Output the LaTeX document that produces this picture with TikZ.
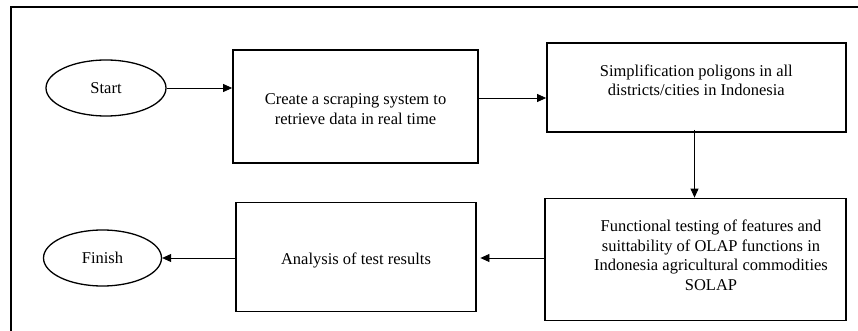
\documentclass[tikz,border=0pt]{standalone}
\usepackage{fontspec}
\setmainfont{Liberation Serif}
\usetikzlibrary{arrows.meta,shapes.geometric,calc}
\tikzset{
  procbox/.style={draw, line width=1.8pt, rectangle, inner sep=0pt},
  term/.style={draw, line width=1.3pt, ellipse, inner sep=0pt},
  txt/.style={align=center, font=\fontsize{16.5}{19.5}\selectfont, inner sep=0pt},
  flow/.style={line width=0.8pt, -{Triangle[length=9pt,width=8pt]}},
}
\begin{document}
\begin{tikzpicture}[x=1pt,y=-1pt]
\useasboundingbox (0,0) rectangle (858,331);
\clip (0,0) rectangle (858,331);
\draw[line width=1.6pt] (11,7) rectangle (880,350);
% terminals
\node[term, minimum width=120, minimum height=56, txt] (s) at (106,88) {Start};
\node[term, minimum width=118, minimum height=56, txt] (f) at (102.5,258) {Finish};
% boxes
\node[procbox, minimum width=245, minimum height=113] (b1) at (355.5,106.5) {};
\node[txt] (t1) at (355.5,109) {Create a scraping system to\\retrieve data in real time};
\node[procbox, minimum width=299, minimum height=89] (b2) at (696.5,87.5) {};
\node[txt] (t2) at (696.3,80.5) {Simplification poligons in all\\districts/cities in Indonesia};
\node[procbox, minimum width=301, minimum height=122] (b3) at (695.5,259.5) {};
\node[txt] (t3) at (711,255.5) {Functional testing of features and\\suittability of OLAP functions in\\Indonesia agricultural commodities\\SOLAP};
\node[procbox, minimum width=240, minimum height=109] (b4) at (356,257) {};
\node[txt] (t4) at (356,260) {Analysis of test results};
% connectors
\draw[flow] (s.east) -- (s.east -| b1.west);
\draw[flow] ($(b1.east)+(0,-8.5)$) -- ($(b1.east -| b2.west)+(0,-8.5)$);
\draw[flow] ($(b2.south)+(-2,-3)$) -- ($(b2.south |- b3.north)+(-2,0)$);
\draw[flow] ($(b3.west)+(0,-1.5)$) -- ($(b3.west -| b4.east)+(3.5,-1.5)$);
\draw[flow] (f.east -| b4.west) -- (f.east);
\end{tikzpicture}
\end{document}
